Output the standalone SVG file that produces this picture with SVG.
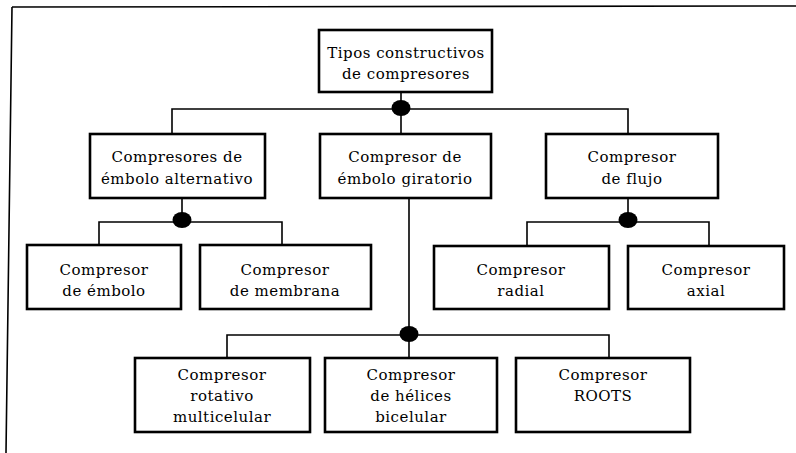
<svg xmlns="http://www.w3.org/2000/svg" width="796" height="453" viewBox="0 0 796 453">
<style>
.box{fill:#fff;stroke:#000;stroke-width:2.6}
.ln{fill:none;stroke:#000;stroke-width:1.6}
.dot{fill:#000}
text{font-family:"DejaVu Serif","Liberation Serif",serif;font-size:15px;letter-spacing:0.5px;fill:#000;text-anchor:middle}
</style>
<rect width="796" height="453" fill="#fff"/>
<g id="frame">
<path class="ln" d="M12,7 L796,6 M12,7 L6,453" stroke-width="2"/>
</g>
<g id="connectors">
<path class="ln" d="M401,92 V134 M172,134 V109 H628 V134"/>
<path class="ln" d="M182,198 V221 M99,245 V222 H282 V245"/>
<path class="ln" d="M628,198 V221 M527,246 V222 H709 V246"/>
<path class="ln" d="M409,198 V358 M227,358 V335 H609 V358"/>
<ellipse class="dot" cx="401" cy="108" rx="9.5" ry="8"/>
<ellipse class="dot" cx="182" cy="220" rx="9.5" ry="8"/>
<ellipse class="dot" cx="628" cy="220" rx="9.5" ry="8"/>
<ellipse class="dot" cx="409" cy="334" rx="9.5" ry="8"/>
</g>
<g id="n-root"><rect class="box" x="319" y="30" width="173" height="62"/><text x="406" y="58">Tipos constructivos</text><text x="406" y="79">de compresores</text></g>
<g id="n-alt"><rect class="box" x="90" y="134" width="175" height="64"/><text x="177" y="162">Compresores de</text><text x="177" y="184">émbolo alternativo</text></g>
<g id="n-gir"><rect class="box" x="320" y="134" width="171" height="64"/><text x="405" y="162">Compresor de</text><text x="405" y="184">émbolo giratorio</text></g>
<g id="n-flujo"><rect class="box" x="546" y="134" width="172" height="64"/><text x="632" y="162">Compresor</text><text x="632" y="184">de flujo</text></g>
<g id="n-embolo"><rect class="box" x="27" y="245" width="154" height="64"/><text x="104" y="275">Compresor</text><text x="104" y="296">de émbolo</text></g>
<g id="n-membrana"><rect class="box" x="200" y="245" width="171" height="64"/><text x="285" y="275">Compresor</text><text x="285" y="296">de membrana</text></g>
<g id="n-radial"><rect class="box" x="434" y="246" width="175" height="63"/><text x="521" y="275">Compresor</text><text x="521" y="296">radial</text></g>
<g id="n-axial"><rect class="box" x="628" y="246" width="156" height="63"/><text x="706" y="275">Compresor</text><text x="706" y="296">axial</text></g>
<g id="n-rotativo"><rect class="box" x="135" y="358" width="175" height="74"/><text x="222" y="380">Compresor</text><text x="222" y="401">rotativo</text><text x="222" y="422">multicelular</text></g>
<g id="n-helices"><rect class="box" x="325" y="358" width="172" height="74"/><text x="411" y="380">Compresor</text><text x="411" y="401">de hélices</text><text x="411" y="422">bicelular</text></g>
<g id="n-roots"><rect class="box" x="516" y="358" width="174" height="74"/><text x="603" y="380">Compresor</text><text x="603" y="401">ROOTS</text></g>
</svg>
